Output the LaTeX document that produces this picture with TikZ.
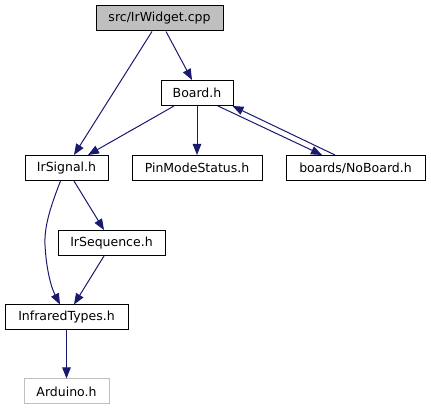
\documentclass[tikz,border=0pt]{standalone}
\usepackage{fontspec}
\setmainfont{DejaVu Sans}
\usetikzlibrary{arrows.meta}
\definecolor{edgecol}{HTML}{191970}
\definecolor{graybox}{HTML}{BFBFBF}
\tikzset{
  filebox/.style={draw=black, line width=1pt, fill=white, minimum height=25pt, inner sep=0pt,
    font=\fontsize{12.5}{14}\selectfont, text=black},
  extbox/.style={filebox, draw=graybox},
  rootbox/.style={filebox, fill=graybox},
  dep/.style={draw=edgecol, line width=1pt, -{Triangle[length=11pt,width=8.5pt]}, color=edgecol}
}
\begin{document}
\begin{tikzpicture}[x=1pt,y=-1pt]
\useasboundingbox (0,0) rectangle (431,411);
\node[rootbox, minimum width=127pt] (w) at (159.5,18.5) {src/IrWidget.cpp};
\node[filebox, minimum width=72pt] (b) at (197,93) {Board.h};
\node[filebox, minimum width=83pt] (s) at (66.5,168) {IrSignal.h};
\node[filebox, minimum width=130pt] (p) at (197,168) {PinModeStatus.h};
\node[filebox, minimum width=139pt] (n) at (355.5,168) {boards/NoBoard.h};
\node[filebox, minimum width=107pt] (q) at (111.5,243) {IrSequence.h};
\node[filebox, minimum width=123pt] (t) at (66.5,317.5) {InfraredTypes.h};
\node[extbox, minimum width=85pt] (a) at (66.5,391.5) {Arduino.h};

\draw[dep] ([xshift=-7.5pt]w.south) -- ([xshift=7.5pt]s.north);
\draw[dep] ([xshift=6.5pt]w.south) -- ([xshift=-5pt]b.north);
\draw[dep] ([xshift=-23pt]b.south) -- ([xshift=21.5pt]s.north);
\draw[dep] (b.south) -- (p.north);
\draw[dep] ([xshift=21pt]b.south) -- ([xshift=-33.5pt]n.north);
\draw[dep] ([xshift=-20.5pt]n.north) -- ([xshift=-1pt]b.south east);
\draw[dep] ([xshift=7.5pt]s.south) -- ([xshift=-7.5pt]q.north);
\draw[dep] ([xshift=-6pt]s.south) .. controls (52,203) and (44,225) .. (45,245) .. controls (46,265) and (50,285) .. ([xshift=-6.5pt]t.north);
\draw[dep] ([xshift=-7.5pt]q.south) -- ([xshift=7.5pt]t.north);
\draw[dep] (t.south) -- (a.north);
\end{tikzpicture}
\end{document}
